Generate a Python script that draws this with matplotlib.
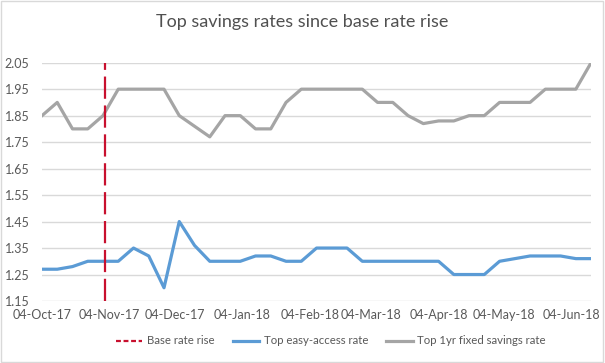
import datetime as dt

import matplotlib.dates as mdates
import matplotlib.pyplot as plt
from matplotlib.patches import Rectangle

plt.rcParams['font.family'] = ['Lato', 'DejaVu Sans']

# weekly observations from 04-Oct-17
start = dt.date(2017, 10, 4)
dates = [start + dt.timedelta(weeks=i) for i in range(37)]

easy_access = [1.27, 1.27, 1.28, 1.30, 1.30, 1.30, 1.35, 1.32, 1.20, 1.45,
               1.36, 1.30, 1.30, 1.30, 1.32, 1.32, 1.30, 1.30, 1.35, 1.35,
               1.35, 1.30, 1.30, 1.30, 1.30, 1.30, 1.30, 1.25, 1.25, 1.25,
               1.30, 1.31, 1.32, 1.32, 1.32, 1.31, 1.31]

fixed_1yr = [1.85, 1.90, 1.80, 1.80, 1.85, 1.95, 1.95, 1.95, 1.95, 1.85,
             1.81, 1.77, 1.85, 1.85, 1.80, 1.80, 1.90, 1.95, 1.95, 1.95,
             1.95, 1.95, 1.90, 1.90, 1.85, 1.82, 1.83, 1.83, 1.85, 1.85,
             1.90, 1.90, 1.90, 1.95, 1.95, 1.95, 2.05]

base_rate_rise = dt.date(2017, 11, 2)
y_ticks = [1.15, 1.25, 1.35, 1.45, 1.55, 1.65, 1.75, 1.85, 1.95, 2.05]
x_ticks = [dt.date(2017, m, 4) for m in (10, 11, 12)] + \
          [dt.date(2018, m, 4) for m in (1, 2, 3, 4, 5, 6)]

text_col = '#595959'

fig = plt.figure(figsize=(6.05, 3.63), dpi=100)
ax = fig.add_axes([0.0694, 0.1708, 0.9076, 0.6565])

ax.axvline(base_rate_rise, color='#C8102E', lw=1.6, dashes=(10, 3),
           label='Base rate rise', zorder=3)
ax.plot(dates, easy_access, color='#5B9BD5', lw=2.3,
        label='Top easy-access rate', solid_joinstyle='round')
ax.plot(dates, fixed_1yr, color='#A5A5A5', lw=2.3,
        label='Top 1yr fixed savings rate', solid_joinstyle='round')

ax.set_xlim(dates[0], dates[-1])
ax.set_ylim(1.15, 2.05)
ax.set_yticks(y_ticks)
ax.set_yticklabels([f'{v:.2f}' for v in y_ticks])
ax.set_xticks(x_ticks)
ax.xaxis.set_major_formatter(mdates.DateFormatter('%d-%b-%y'))

ax.grid(axis='y', color='#D9D9D9', lw=1)
ax.set_axisbelow(True)
for s in ax.spines.values():
    s.set_visible(False)
ax.tick_params(length=0, labelsize=9, colors=text_col)
ax.tick_params(axis='y', pad=9)
ax.tick_params(axis='x', pad=6)

fig.text(0.5, 1 - 22 / 363, 'Top savings rates since base rate rise',
         ha='center', va='center', fontsize=13, color='#505050')

leg = fig.legend(loc='center', bbox_to_anchor=(331 / 605, 1 - 341 / 363),
                 ncol=3, frameon=False, fontsize=8.2, labelcolor=text_col,
                 handlelength=2.3, columnspacing=1.6, handletextpad=0.4)
leg.get_lines()[0].set_dashes([2.2, 1.2])

fig.add_artist(Rectangle((0.001, 0.002), 0.996, 0.995, transform=fig.transFigure,
                         fill=False, edgecolor='#D9D9D9', lw=1))

fig.savefig('out.png', dpi=100)
